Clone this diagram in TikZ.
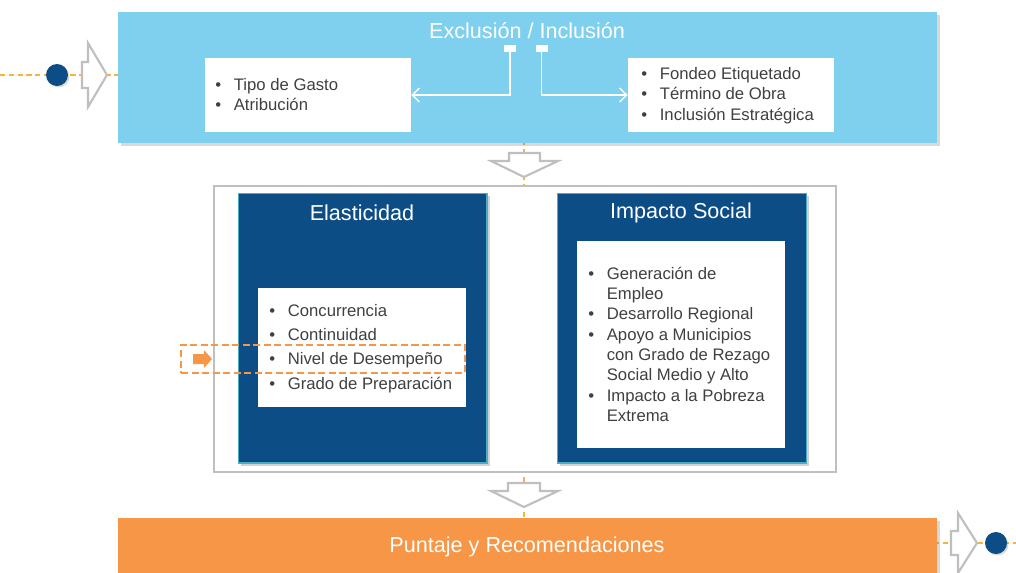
\documentclass[tikz,border=0pt]{standalone}
\usepackage{fontspec}
\setmainfont{Liberation Sans}
\usetikzlibrary{arrows.meta,shadows}

\definecolor{skyband}{HTML}{7FCFEE}
\definecolor{navybox}{HTML}{0D4D86}
\definecolor{orangeband}{HTML}{F79646}
\definecolor{guideline}{HTML}{F5B43C}
\definecolor{outlinegray}{HTML}{BFBFBF}
\definecolor{bodytext}{HTML}{404040}
\definecolor{boxrim}{HTML}{4BACC6}

\newcommand{\titlefont}{\fontsize{12.3}{14}\selectfont}
\newcommand{\listfont}[1]{\fontsize{9.5}{#1}\selectfont}
\newcommand{\itemlist}[1]{\begin{tabular}[t]{@{}l@{\hspace{7.2pt}}l@{}}#1\end{tabular}}

\tikzset{
  band/.style={rectangle, inner sep=0pt, minimum width=16.38cm,
    drop shadow={shadow xshift=1.5pt, shadow yshift=-1.5pt, opacity=0.3}},
  whitebox/.style={rectangle, fill=white, inner sep=0pt},
  navy/.style={rectangle, fill=navybox, draw=boxrim, line width=0.6pt,
    inner sep=0pt, minimum width=4.98cm, minimum height=5.4cm,
    drop shadow={shadow xshift=1.5pt, shadow yshift=-1.5pt, opacity=0.35}},
  heading/.style={text=white, font=\titlefont, inner sep=0pt},
  listnode/.style={anchor=base west, inner sep=0pt, text=bodytext},
  tab/.style={rectangle, fill=white, inner sep=0pt, minimum width=0.24cm, minimum height=0.14cm},
  conn/.style={white, line width=0.8pt, -{Straight Barb[length=4pt, width=8pt]}},
  guide/.style={guideline, line width=0.7pt, dash pattern=on 3pt off 2pt},
  dot/.style={circle, fill=navybox, inner sep=0pt, minimum size=0.44cm,
    drop shadow={shadow xshift=0.8pt, shadow yshift=-0.8pt, opacity=0.3}},
  hollow/.style={draw=outlinegray, fill=white, line width=1.2pt, line join=miter},
}

\begin{document}
\begin{tikzpicture}[x=0.02cm, y=-0.02cm]
  \useasboundingbox (0,0) rectangle (1016,572);

  % guide lines behind everything
  \coordinate (lstart) at (0,75);
  \coordinate (rend) at (1016,543);
  \draw[guide] (lstart) -- (130,75);
  \draw[guide] (925,543) -- (rend);
  \draw[guide] (524,140) -- (524,190);
  \draw[guide] (524,468) -- (524,522);

  % top band
  \node[band, fill=skyband, minimum height=2.62cm] (top) at (527.5,77.5) {};
  \node[heading] (topT) at (527,31) {Exclusión / Inclusión};
  \node[whitebox, minimum width=4.12cm, minimum height=1.48cm] (lbox) at (308,95) {};
  \node[whitebox, minimum width=4.12cm, minimum height=1.48cm] (rbox) at (731,95) {};
  \node[listnode, font=\listfont{11.9}] (lboxL) at (215,90)
    {\itemlist{\textbullet & Tipo de Gasto\\ \textbullet & Atribución}};
  \node[listnode, font=\listfont{11.9}] (rboxL) at (641,79)
    {\itemlist{\textbullet & Fondeo Etiquetado\\ \textbullet & Término de Obra\\ \textbullet & Inclusión Estratégica}};
  \node[tab] (tabL) at (510,48.5) {};
  \node[tab] (tabR) at (541.5,48.5) {};
  \draw[conn] (tabL.south) |- (lbox.east);
  \draw[conn] (tabR.south) |- (rbox.west);

  % left marker
  \node[dot] (ldot) at (57,75) {};
  \draw[hollow] (82,62) -- (88,62) -- (88,43) -- (107,75) -- (88,107) -- (88,88) -- (82,88) -- cycle;

  % arrow down
  \draw[hollow] (509,153) -- (540,153) -- (540,161) -- (558,161) -- (524,177) -- (491,161) -- (509,161) -- cycle;

  % middle block
  \node[rectangle, draw=outlinegray, line width=0.7pt, fill=white, inner sep=0pt,
    minimum width=12.44cm, minimum height=5.72cm] (mid) at (525,329) {};
  \node[navy] (elas) at (362.5,328) {};
  \node[navy] (impa) at (682,328) {};
  \node[heading] (elasT) at (362,213) {Elasticidad};
  \node[heading] (impaT) at (681,213) {Impacto Social};
  \node[whitebox, minimum width=4.16cm, minimum height=2.38cm] (elasBox) at (362,347.5) {};
  \node[whitebox, minimum width=4.16cm, minimum height=4.14cm] (impaBox) at (681,344.5) {};
  \node[listnode, font=\listfont{13.9}] (elasL) at (269,316)
    {\itemlist{\textbullet & Concurrencia\\ \textbullet & Continuidad\\ \textbullet & Nivel de Desempeño\\ \textbullet & Grado de Preparación}};
  \node[listnode, font=\listfont{11.6}] (impaL) at (588,279)
    {\itemlist{\textbullet & Generación de\\ & Empleo\\ \textbullet & Desarrollo Regional\\ \textbullet & Apoyo a Municipios\\ & con Grado de Rezago\\ & Social Medio y Alto\\ \textbullet & Impacto a la Pobreza\\ & Extrema}};

  % highlight of the current step
  \node[rectangle, draw=orangeband, line width=1.2pt, dash pattern=on 4pt off 2pt,
    inner sep=0pt, minimum width=5.68cm, minimum height=0.56cm] (focus) at (323,359) {};
  \fill[orangeband] (193,354) -- (204,354) -- (204,350) -- (212,359) -- (204,368) -- (204,364) -- (193,364) -- cycle;

  % arrow down
  \draw[hollow] (508,483) -- (540,483) -- (540,491) -- (558,491) -- (524,507) -- (491,491) -- (508,491) -- cycle;

  % bottom band
  \node[band, fill=orangeband, minimum height=1.16cm] (bottom) at (527.5,547) {};
  \node[heading] (bottomT) at (527,547) {Puntaje y Recomendaciones};

  % right marker
  \draw[hollow] (951,531) -- (958,531) -- (958,513) -- (977,543) -- (958,573) -- (958,555) -- (951,555) -- cycle;
  \node[dot] (rdot) at (996,543) {};
\end{tikzpicture}
\end{document}
